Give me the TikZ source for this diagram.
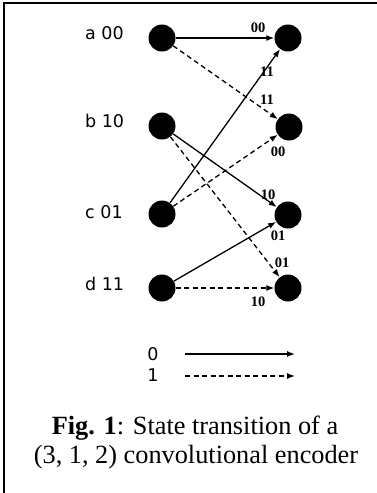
\documentclass[tikz,border=0pt]{standalone}
\usepackage{fontspec}
\setmainfont{Liberation Serif}
\newfontfamily\lblfont{DejaVu Sans}
\usetikzlibrary{arrows.meta}
\begin{document}
\begin{tikzpicture}[x=1pt,y=-1pt,
  state/.style={circle,fill=black,minimum size=27pt,inner sep=0pt},
  lbl/.style={font=\lblfont\fontsize{17.5}{20}\selectfont,inner sep=0pt},
  elbl/.style={font=\bfseries\fontsize{14.5}{16}\selectfont,inner sep=0pt},
  capt/.style={font=\fontsize{26.3}{29}\selectfont,inner sep=0pt},
  zero/.style={-{Latex[length=8pt,width=6pt]},line width=1.3pt},
  one/.style={zero,dash pattern=on 5pt off 3.5pt}]
\useasboundingbox (0,0) rectangle (377,493);
\draw[line width=2pt] (3.5,493) -- (3.5,3) -- (377,3);
% states
\node[state] (a) at (162,38) {};
\node[state] (b) at (162,126) {};
\node[state] (c) at (162,214) {};
\node[state] (d) at (162,288) {};
\node[state] (a2) at (288,38) {};
\node[state] (b2) at (289,127) {};
\node[state] (c2) at (288,215) {};
\node[state] (d2) at (288,288) {};
% state labels
\node[lbl,anchor=base west] (la) at (85,39) {a 00};
\node[lbl,anchor=base west] (lb) at (85,127) {b 10};
\node[lbl,anchor=base west] (lc) at (85,218) {c 01};
\node[lbl,anchor=base west] (ld) at (85,290) {d 11};
% transitions
\draw[zero] (a) -- (a2);
\draw[one] (a) -- (b2);
\draw[zero] (c) -- (a2);
\draw[one] (c) -- (b2);
\draw[zero] (b) -- (c2);
\draw[one] (b) -- (d2);
\draw[zero] (d) -- (c2);
\draw[one] (d) -- (d2);
% output labels
\node[elbl] (o1) at (258,28) {00};
\node[elbl] (o2) at (267,72) {11};
\node[elbl] (o3) at (267,100) {11};
\node[elbl] (o4) at (278,152) {00};
\node[elbl] (o5) at (268,195) {10};
\node[elbl] (o6) at (278,236) {01};
\node[elbl] (o7) at (282,263) {01};
\node[elbl] (o8) at (258,302) {10};
% legend
\node[lbl] (l0) at (153,354) {0};
\node[lbl] (l1) at (153,375) {1};
\coordinate (s0) at (185,354);
\coordinate (e0) at (295,354);
\coordinate (s1) at (185,376);
\coordinate (e1) at (295,376);
\draw[zero] (s0) -- (e0);
\draw[one] (s1) -- (e1);
% caption
\node[capt,anchor=base] (cap1) at (195,434) {\textbf{Fig. 1}: State transition of a};
\node[capt,anchor=base] (cap2) at (196,463) {(3, 1, 2) convolutional encoder};
\end{tikzpicture}
\end{document}
